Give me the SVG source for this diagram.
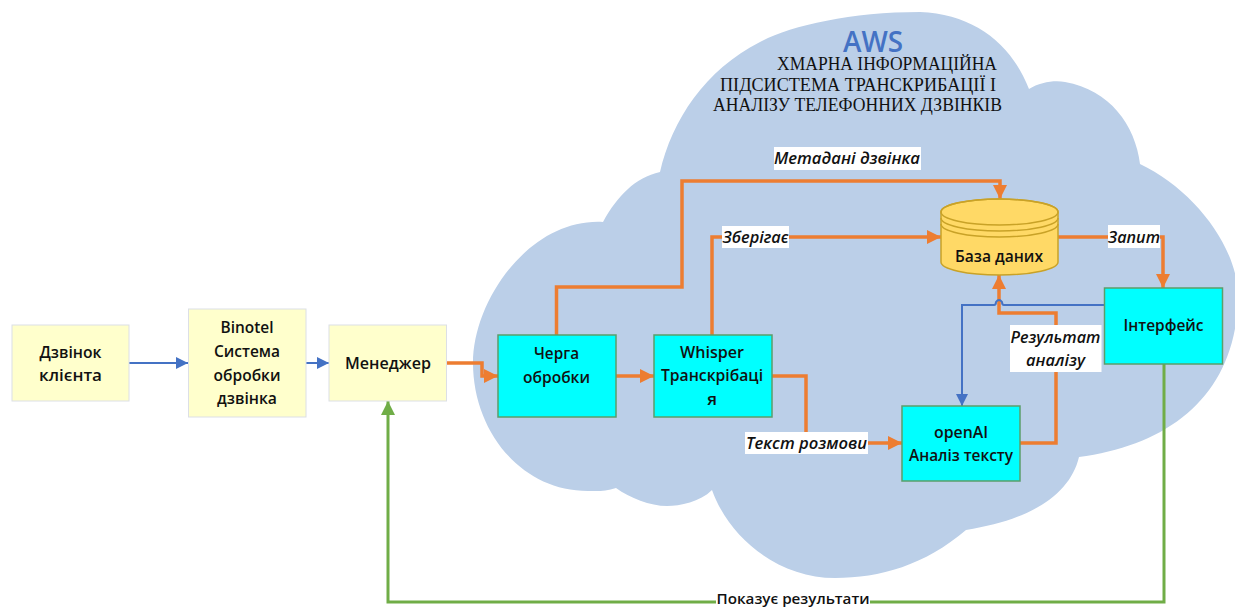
<svg xmlns="http://www.w3.org/2000/svg" width="1235" height="607" viewBox="0 0 1235 607">
<defs>
<style>
.n{font-family:"Open Sans","Noto Sans",sans-serif;font-size:17px;font-weight:600;fill:#111;text-anchor:middle}
.l{font-family:"Open Sans","Noto Sans",sans-serif;font-size:17px;font-weight:600;font-style:italic;fill:#111;text-anchor:middle}
.t{font-family:"Liberation Serif",serif;font-size:18px;fill:#111}
.y{fill:#ffffcc;stroke:#dcdfe6;stroke-width:1}
.c{fill:#00ffff;stroke:#5b9e6a;stroke-width:1.5}
.o{fill:none;stroke:#ed7d31;stroke-width:3.5}
.b{fill:none;stroke:#4472c4;stroke-width:2}
.g{fill:none;stroke:#70ad47;stroke-width:3}
</style>
<marker id="ao" markerUnits="userSpaceOnUse" markerWidth="15" markerHeight="14" refX="14" refY="7" orient="auto"><path d="M0 0L14 7L0 14Z" fill="#ed7d31"/></marker>
<marker id="ab" markerUnits="userSpaceOnUse" markerWidth="13" markerHeight="14" refX="12" refY="7" orient="auto"><path d="M0 1L12 7L0 13Z" fill="#4472c4"/></marker>
<marker id="ag" markerUnits="userSpaceOnUse" markerWidth="15" markerHeight="14" refX="14" refY="7" orient="auto"><path d="M0 0L14 7L0 14Z" fill="#70ad47"/></marker>
</defs>
<rect width="1235" height="607" fill="#fff"/>
<g id="cloud">
<path fill="#bbcfe8" d="M603 222C618 195 635 178 660 172C672 120 705 70 760 42C790 26 850 12 920 12C975 14 1012 45 1029 89C1040 82 1055 80 1065 82C1110 90 1135 125 1140 164C1195 190 1240 250 1238 300C1235 395 1170 445 1079 457C1070 495 1030 520 966 530C925 565 880 578 835 578C780 578 730 540 712 490C700 502 680 506 667 506C650 506 630 498 616 488C605 492 595 491 588 491C520 491 473 430 473 363C473 300 530 218 603 222Z"/>
<text x="873" y="52" textLength="60" lengthAdjust="spacingAndGlyphs" text-anchor="middle" style="font-family:'Open Sans',sans-serif;font-size:28px;font-weight:600;fill:#4472c4">AWS</text>
<text class="t" x="777" y="70" textLength="220" lengthAdjust="spacingAndGlyphs">ХМАРНА ІНФОРМАЦІЙНА</text>
<text class="t" x="720" y="91" textLength="276" lengthAdjust="spacingAndGlyphs">ПІДСИСТЕМА ТРАНСКРИБАЦІЇ І</text>
<text class="t" x="713" y="111" textLength="289" lengthAdjust="spacingAndGlyphs">АНАЛІЗУ ТЕЛЕФОННИХ ДЗВІНКІВ</text>
</g>
<g id="connectors">
<path class="b" marker-end="url(#ab)" d="M129 363H188"/>
<path class="b" marker-end="url(#ab)" d="M306 363H329"/>
<path class="o" marker-end="url(#ao)" d="M446 363H482V376H498"/>
<path class="o" marker-end="url(#ao)" d="M556.500 335V287H682V181H1000V199"/>
<path class="o" marker-end="url(#ao)" d="M616 376H654"/>
<path class="o" marker-end="url(#ao)" d="M712 335V237H941"/>
<path class="o" marker-end="url(#ao)" d="M1058 237H1163V288"/>
<path class="o" marker-end="url(#ao)" d="M771 376H806V443H902"/>
<path class="o" marker-end="url(#ao)" d="M1020 443H1056V313H999V275"/>
<path class="b" marker-end="url(#ab)" d="M1104 305H1004Q1002 305 1002 302Q999 298 996 302Q996 305 994 305H962V406"/>
<path class="g" marker-end="url(#ag)" d="M1164 364V602H388V401"/>
</g>
<g id="labels">
<rect x="774" y="147" width="147" height="23" fill="#fff"/>
<text class="l" x="847" y="164" textLength="146" lengthAdjust="spacingAndGlyphs">Метадані дзвінка</text>
<rect x="722" y="226" width="67" height="22" fill="#fff"/>
<text class="l" x="755.500" y="243" textLength="66" lengthAdjust="spacingAndGlyphs">Зберігає</text>
<rect x="1108" y="225" width="52" height="23" fill="#fff"/>
<text class="l" x="1134" y="243" textLength="52" lengthAdjust="spacingAndGlyphs">Запит</text>
<rect x="745" y="432" width="123" height="22" fill="#fff"/>
<text class="l" x="806.500" y="449" textLength="121" lengthAdjust="spacingAndGlyphs">Текст розмови</text>
<rect x="1010" y="325" width="91.500" height="47" fill="#fff"/>
<text class="l" x="1055.500" y="343" textLength="90" lengthAdjust="spacingAndGlyphs">Результат</text>
<text class="l" x="1055.500" y="366" textLength="59" lengthAdjust="spacingAndGlyphs">аналізу</text>
<rect x="716" y="592" width="154" height="15" fill="#fff"/>
<text class="n" x="793" y="604" textLength="153" lengthAdjust="spacingAndGlyphs" style="font-size:15px">Показує результати</text>
</g>
<g id="node-client">
<rect class="y" x="12" y="325" width="117" height="76"/>
<text class="n" x="70.500" y="358" textLength="62" lengthAdjust="spacingAndGlyphs">Дзвінок</text>
<text class="n" x="70.500" y="381" textLength="63" lengthAdjust="spacingAndGlyphs">клієнта</text>
</g>
<g id="node-binotel">
<rect class="y" x="188.500" y="309" width="117.500" height="108"/>
<text class="n" x="247" y="333" textLength="53" lengthAdjust="spacingAndGlyphs">Binotel</text>
<text class="n" x="247" y="357" textLength="66" lengthAdjust="spacingAndGlyphs">Система</text>
<text class="n" x="247" y="381" textLength="67" lengthAdjust="spacingAndGlyphs">обробки</text>
<text class="n" x="247" y="404" textLength="60" lengthAdjust="spacingAndGlyphs">дзвінка</text>
</g>
<g id="node-manager">
<rect class="y" x="329" y="325" width="117.500" height="76"/>
<text class="n" x="388" y="369" textLength="86" lengthAdjust="spacingAndGlyphs">Менеджер</text>
</g>
<g id="node-queue">
<rect class="c" x="498" y="335" width="118" height="82"/>
<text class="n" x="556.500" y="359" textLength="45" lengthAdjust="spacingAndGlyphs">Черга</text>
<text class="n" x="556.500" y="383" textLength="67" lengthAdjust="spacingAndGlyphs">обробки</text>
</g>
<g id="node-whisper">
<rect class="c" x="654" y="335" width="118" height="82"/>
<text class="n" x="712" y="358" textLength="64" lengthAdjust="spacingAndGlyphs">Whisper</text>
<text class="n" x="712" y="381" textLength="102" lengthAdjust="spacingAndGlyphs">Транскрібаці</text>
<text class="n" x="712" y="405">я</text>
</g>
<g id="node-openai">
<rect class="c" x="902" y="406" width="118" height="75"/>
<text class="n" x="961" y="438" textLength="54" lengthAdjust="spacingAndGlyphs">openAI</text>
<text class="n" x="961" y="461" textLength="104" lengthAdjust="spacingAndGlyphs">Аналіз тексту</text>
</g>
<g id="node-interface">
<rect class="c" x="1104.500" y="288" width="118" height="76"/>
<text class="n" x="1163.500" y="331" textLength="80" lengthAdjust="spacingAndGlyphs">Інтерфейс</text>
</g>
<g id="node-db">
<path d="M941 212A58.500 13 0 0 1 1058 212V262A58.500 13 0 0 1 941 262Z" fill="#ffd966" stroke="#c9a227" stroke-width="1.500"/>
<ellipse cx="999.500" cy="212" rx="58.500" ry="13" fill="none" stroke="#c9a227" stroke-width="1.500"/>
<path d="M941 218A58.500 13 0 0 0 1058 218M941 224A58.500 13 0 0 0 1058 224" fill="none" stroke="#c9a227" stroke-width="1.500"/>
<text class="n" x="999" y="262" textLength="88" lengthAdjust="spacingAndGlyphs">База даних</text>
</g>
</svg>
